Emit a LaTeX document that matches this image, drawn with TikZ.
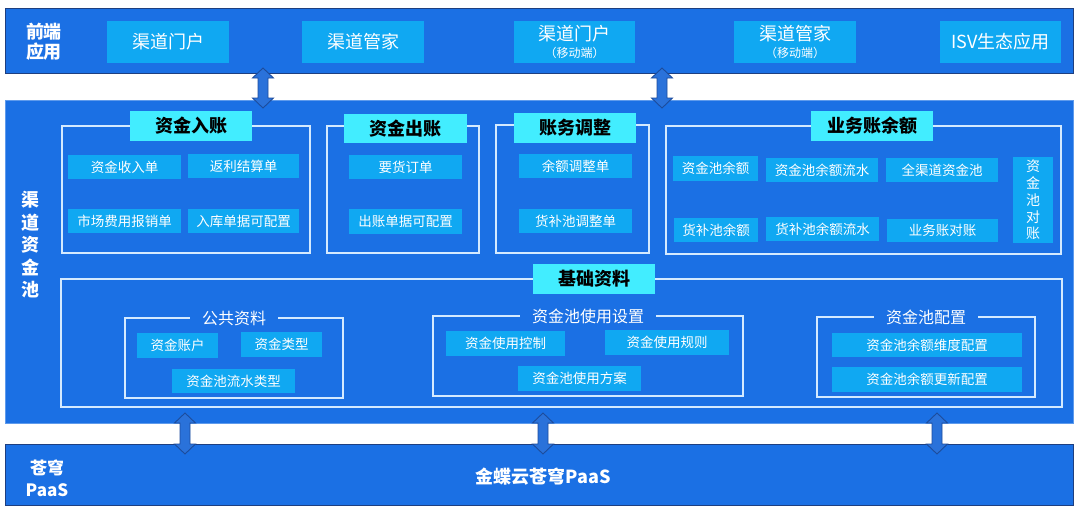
\documentclass[tikz,border=0pt]{standalone}
\usepackage{fontspec}
\setmainfont{Noto Sans CJK SC}
\usetikzlibrary{calc}
\definecolor{panelblue}{HTML}{1B70E4}
\definecolor{barborder}{HTML}{1E3F80}
\definecolor{itemfill}{HTML}{10A8F2}
\definecolor{titlefill}{HTML}{42EDFF}
\definecolor{linecol}{HTML}{D4EAFF}
\definecolor{arrowfill}{HTML}{2A72DA}
\definecolor{arrowline}{HTML}{1D4C9C}
\newcommand\bx[7]{\node[#1,minimum width={#5-#3},minimum height={#6-#4}] (#2) at ({(#3+#5)/2},{(#4+#6)/2}) {#7};}
\tikzset{
  every node/.style={inner sep=0pt,outer sep=0pt},
  barbox/.style={draw=barborder,fill=panelblue,line width=1pt},
  midpanel/.style={draw=panelblue!70!white,fill=panelblue,line width=0.6pt},
  topbox/.style={fill=itemfill,text=white,align=center,font=\fontsize{18}{20}\selectfont},
  itembox/.style={fill=itemfill,text=white,align=center,font=\fontsize{13.5}{16}\selectfont},
  vitem/.style={fill=itemfill,text=white,align=center,font=\fontsize{14}{16.8}\selectfont},
  grpbox/.style={draw=linecol,line width=1.1pt},
  titlebox/.style={fill=titlefill,text=black,font=\bfseries\fontsize{18}{20}\selectfont},
  sublabel/.style={fill=panelblue,text=white,inner xsep=12pt,inner ysep=1pt,font=\fontsize{16}{18}\selectfont},
  sidelabel/.style={text=white,align=center,font=\bfseries\fontsize{18}{20}\selectfont},
  arrowstyle/.style={fill=arrowfill,draw=arrowline,line width=0.9pt,line join=miter},
  pics/vdarrow/.style={code={
    \draw[arrowstyle] (0,0) -- (10.5,10) -- (5,10) -- (5,#1-10) -- (10.5,#1-10) -- (0,#1)
      -- (-10.5,#1-10) -- (-5,#1-10) -- (-5,10) -- (-10.5,10) -- cycle;}}
}
\begin{document}
\begin{tikzpicture}[x=1pt,y=-1pt]
\useasboundingbox[fill=white] (0,0) rectangle (1080,509);

% layers
\bx{barbox}{topbar}{5}{8}{1073}{73}{}
\bx{midpanel}{mid}{5}{100}{1073}{423}{}
\bx{barbox}{botbar}{5}{444}{1073}{505}{}

% front-end apps
\node[sidelabel] (lfront) at (44,42) {前端\\应用};
\bx{topbox}{t1}{107}{21}{229}{63}{渠道门户}
\bx{topbox}{t2}{302}{21}{424}{63}{渠道管家}
\bx{topbox}{t3}{514}{21}{635}{63}{渠道门户\\[-3pt]{\fontsize{12}{13}\selectfont （移动端）}}
\bx{topbox}{t4}{734}{21}{856}{63}{渠道管家\\[-3pt]{\fontsize{12}{13}\selectfont （移动端）}}
\bx{topbox}{t5}{940}{21}{1061}{63}{ISV生态应用}

% middle label
\node[sidelabel,font=\bfseries\fontsize{18}{22.5}\selectfont] (lmid) at (30,245) {渠\\道\\资\\金\\池};

% group outlines
\bx{grpbox}{g1}{62}{126}{310}{253}{}
\bx{grpbox}{g2}{327}{126}{479}{253}{}
\bx{grpbox}{g3}{496}{125}{649}{253}{}
\bx{grpbox}{g4}{666}{126}{1061}{254}{}
\bx{grpbox}{g5}{61}{279}{1062}{407}{}

% titles
\bx{titlebox}{h1}{130}{111}{252}{141}{资金入账}
\bx{titlebox}{h2}{344}{114}{467}{143}{资金出账}
\bx{titlebox}{h3}{514}{113}{636}{143}{账务调整}
\bx{titlebox}{h4}{811}{111}{933}{141}{业务账余额}
\bx{titlebox}{h5}{533}{264}{655}{294}{基础资料}

% 资金入账
\bx{itembox}{a1}{68}{155}{181}{179}{资金收入单}
\bx{itembox}{a2}{188}{154}{299}{178}{返利结算单}
\bx{itembox}{a3}{68}{209}{181}{233}{市场费用报销单}
\bx{itembox}{a4}{188}{209}{299}{233}{入库单据可配置}

% 资金出账
\bx{itembox}{b1}{349}{155}{462}{179}{要货订单}
\bx{itembox}{b2}{349}{209}{462}{234}{出账单据可配置}

% 账务调整
\bx{itembox}{c1}{519}{154}{632}{178}{余额调整单}
\bx{itembox}{c2}{519}{209}{632}{233}{货补池调整单}

% 业务账余额
\bx{itembox}{d1}{673}{156}{758}{181}{资金池余额}
\bx{itembox}{d2}{766}{158}{878}{182}{资金池余额流水}
\bx{itembox}{d3}{886}{158}{998}{182}{全渠道资金池}
\bx{itembox}{d4}{674}{218}{758}{242}{货补池余额}
\bx{itembox}{d5}{766}{217}{879}{241}{货补池余额流水}
\bx{itembox}{d6}{887}{219}{998}{242}{业务账对账}
\bx{vitem}{d7}{1013}{157}{1053}{243}{资\\金\\池\\对\\账}

% 基础资料 sub groups
\bx{grpbox}{s1}{125}{318}{343}{398}{}
\bx{grpbox}{s2}{433}{316}{743}{396}{}
\bx{grpbox}{s3}{817}{317}{1035}{397}{}
\node[sublabel] (s1l) at (s1.north) {公共资料};
\node[sublabel] (s2l) at (s2.north) {资金池使用设置};
\node[sublabel] (s3l) at (s3.north) {资金池配置};

\bx{itembox}{e1}{137}{333}{218}{358}{资金账户}
\bx{itembox}{e2}{241}{332}{322}{357}{资金类型}
\bx{itembox}{e3}{172}{369}{295}{393}{资金池流水类型}

\bx{itembox}{f1}{446}{331}{565}{356}{资金使用控制}
\bx{itembox}{f2}{605}{330}{729}{355}{资金使用规则}
\bx{itembox}{f3}{518}{366}{641}{391}{资金池使用方案}

\bx{itembox}{k1}{832}{333}{1022}{357}{资金池余额维度配置}
\bx{itembox}{k2}{832}{367}{1022}{392}{资金池余额更新配置}

% PaaS
\node[sidelabel,font=\bfseries\fontsize{17}{22}\selectfont] (lpaas) at (47,478) {苍穹\\PaaS};
\node[sidelabel] (paas) at (543.5,477) {金蝶云苍穹PaaS};

% block arrows
\coordinate (ar1) at (263,68);
\coordinate (ar2) at (662,68);
\coordinate (ar3) at (185,413);
\coordinate (ar4) at (543,413);
\coordinate (ar5) at (937,413);
\pic at (ar1) {vdarrow=40};
\pic at (ar2) {vdarrow=40};
\pic at (ar3) {vdarrow=41};
\pic at (ar4) {vdarrow=41};
\pic at (ar5) {vdarrow=41};
\end{tikzpicture}
\end{document}
